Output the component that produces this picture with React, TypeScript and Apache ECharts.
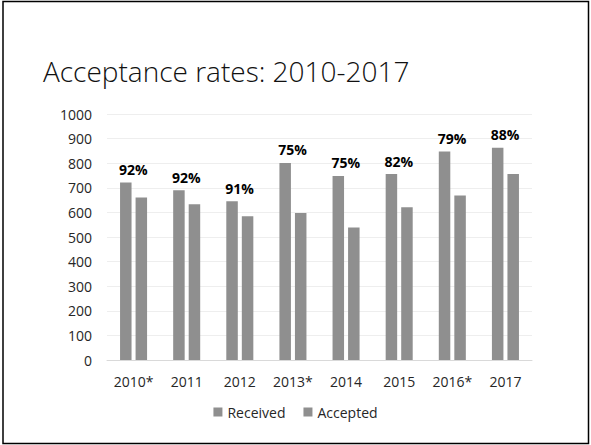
import React, { useEffect, useRef } from "react";
import * as echarts from "echarts";

const categories = ["2010*", "2011", "2012", "2013*", "2014", "2015", "2016*", "2017"];
const received = [722, 690, 645, 801, 748, 756, 848, 863];
const accepted = [661, 633, 584, 598, 539, 621, 669, 756];
const rates = ["92%", "92%", "91%", "75%", "75%", "82%", "79%", "88%"];
const yTicks = { min: 0, max: 1000, interval: 100 };

const FONT = "'Open Sans', 'DejaVu Sans', sans-serif";
const BAR = "#8f8f8f";
const TEXT = "#262626";

export default function App() {
  const ref = useRef<HTMLDivElement>(null);
  useEffect(() => {
    document.body.style.margin = "0";
    const chart = echarts.init(ref.current!, null, { renderer: "svg" });
    chart.setOption({
      animation: false,
      backgroundColor: "#ffffff",
      title: {
        text: "Acceptance rates: 2010-2017",
        left: 38,
        top: 52,
        textStyle: { fontFamily: FONT, fontSize: 28, fontWeight: 300, color: "#111111" },
      },
      graphic: [
        {
          type: "rect",
          shape: { x: 3, y: 1.5, width: 585.5, height: 442 },
          style: { fill: "none", stroke: "#000", lineWidth: 1.5 },
          silent: true,
        },
      ],
      legend: {
        data: ["Received", "Accepted"],
        left: "center",
        top: 400,
        itemWidth: 9,
        itemHeight: 9,
        itemGap: 18,
        icon: "rect",
        textStyle: { fontFamily: FONT, fontSize: 14, color: TEXT },
      },
      grid: { left: 107, right: 59, top: 114, bottom: 85 },
      xAxis: {
        type: "category",
        data: categories,
        axisLine: { lineStyle: { color: "#d9d9d9" } },
        axisTick: { show: false },
        axisLabel: { fontFamily: FONT, fontSize: 14, color: TEXT, margin: 14 },
      },
      yAxis: {
        type: "value",
        min: yTicks.min,
        max: yTicks.max,
        interval: yTicks.interval,
        axisLine: { show: false },
        axisTick: { show: false },
        splitLine: { lineStyle: { color: "#eeeeee" } },
        axisLabel: {
          fontFamily: FONT,
          fontSize: 14,
          color: TEXT,
          margin: 15,
          formatter: (v: number) => String(v),
        },
      },
      series: [
        {
          name: "Received",
          type: "bar",
          data: received,
          barWidth: 11.5,
          barGap: "35%",
          itemStyle: { color: BAR },
          label: {
            show: true,
            position: "top",
            offset: [7.5, -1],
            formatter: (p: any) => rates[p.dataIndex],
            fontFamily: FONT,
            fontSize: 14,
            fontWeight: "bold",
            color: "#000000",
          },
        },
        {
          name: "Accepted",
          type: "bar",
          data: accepted,
          barWidth: 11.5,
          itemStyle: { color: BAR },
        },
      ],
    });
    return () => chart.dispose();
  }, []);
  return <div ref={ref} style={{ position: "fixed", left: 0, top: 0, width: 591, height: 445 }} />;
}
